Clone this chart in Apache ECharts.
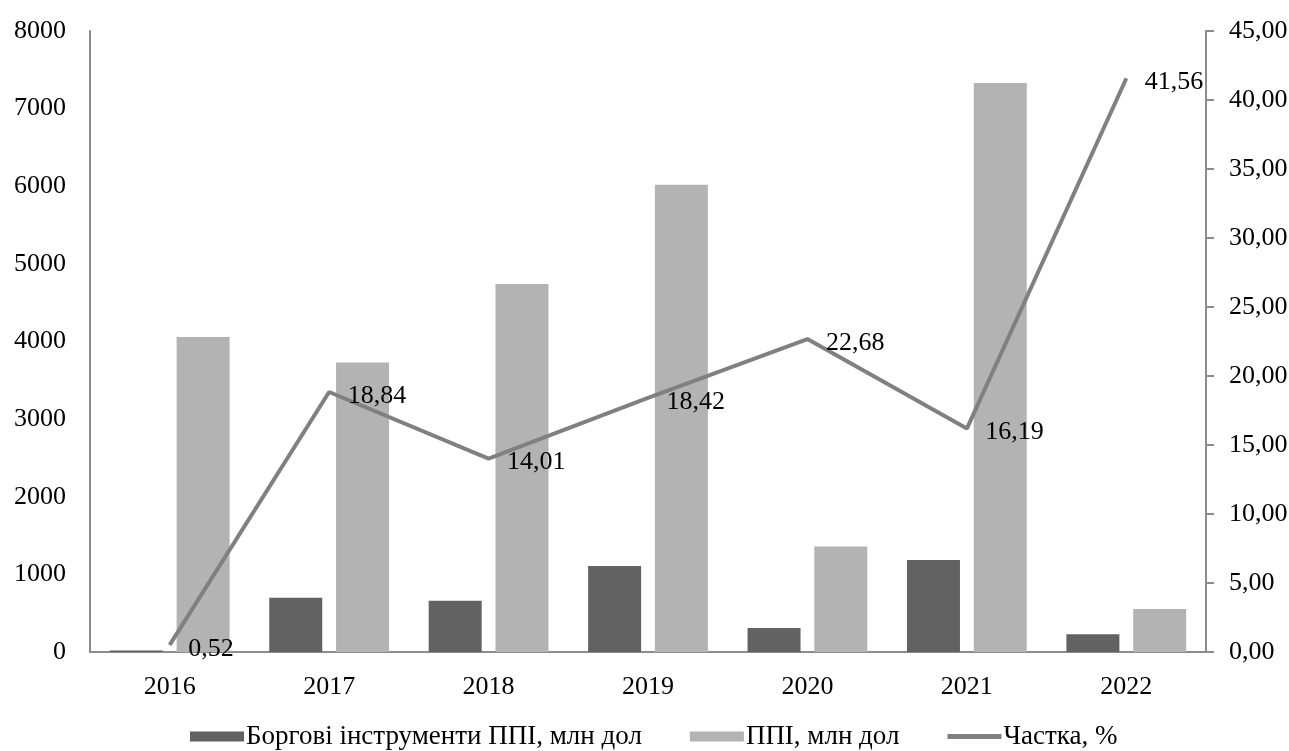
<!DOCTYPE html>
<html><head><meta charset="utf-8">
<script src="https://cdn.jsdelivr.net/npm/echarts@6/dist/echarts.min.js"></script>
<style>html,body{margin:0;padding:0;background:#fff}#c{width:1289px;height:751px}</style>
</head><body><div id="c"></div>
<script>
var categories = ['2016','2017','2018','2019','2020','2021','2022'];
var debtInstruments = [20, 700, 661, 1108, 309, 1185, 228];
var ppi = [4058, 3730, 4740, 6020, 1360, 7330, 554];
var share = [0.52, 18.84, 14.01, 18.42, 22.68, 16.19, 41.56];
var leftTicks = {min: 0, max: 8000, interval: 1000};
var rightTicks = {min: 0, max: 45, interval: 5};

var font = 'Liberation Serif';
var fs = 26;
var chart = echarts.init(document.getElementById('c'));
chart.setOption({
  animation: false,
  textStyle: {fontFamily: font},
  grid: {left: 90, right: 83, top: 31, bottom: 99, containLabel: false, outerBoundsMode: 'none'},
  legend: {
    top: 718, left: 185, itemWidth: 54, itemHeight: 10, itemGap: 48,
    textStyle: {fontFamily: font, fontSize: 27, color: '#000', padding: [0,0,0,-3]},
    data: [
      {name: 'Боргові інструменти ППІ, млн дол', icon: 'rect'},
      {name: 'ППІ, млн дол', icon: 'rect'},
      {name: 'Частка, %', icon: 'path://M0,0h0.01v0.01h-0.01zM0,2.5h54v5h-54zM53.99,9.99h0.01v0.01h-0.01z'}
    ]
  },
  xAxis: {
    type: 'category', data: categories,
    axisLine: {lineStyle: {color: '#8c8c8c', width: 2}},
    axisTick: {show: false},
    axisLabel: {fontFamily: font, fontSize: fs, color: '#000', margin: 22}
  },
  yAxis: [
    {type: 'value', min: leftTicks.min, max: leftTicks.max, interval: leftTicks.interval,
     splitLine: {show: false},
     axisLine: {show: true, lineStyle: {color: '#8c8c8c', width: 2}},
     axisTick: {show: false},
     axisLabel: {fontFamily: font, fontSize: fs, color: '#000', margin: 24,
       formatter: function(v){ return String(v); }}},
    {type: 'value', min: rightTicks.min, max: rightTicks.max, interval: rightTicks.interval,
     splitLine: {show: false},
     axisLine: {show: true, lineStyle: {color: '#8c8c8c', width: 2}},
     axisTick: {show: true, length: 8, lineStyle: {color: '#8c8c8c', width: 2}},
     axisLabel: {fontFamily: font, fontSize: fs, color: '#000', margin: 23,
       formatter: function(v){ return v.toFixed(2).replace('.', ','); }}}
  ],
  series: [
    {name: 'Боргові інструменти ППІ, млн дол', type: 'bar', data: debtInstruments,
     itemStyle: {color: '#626262'}, barWidth: 53, barGap: '26%'},
    {name: 'ППІ, млн дол', type: 'bar', data: ppi,
     itemStyle: {color: '#b3b3b3'}, barWidth: 53},
    {name: 'Частка, %', type: 'line', yAxisIndex: 1, data: share,
     symbol: 'circle', symbolSize: 1, showSymbol: true,
     lineStyle: {color: '#808080', width: 4}, itemStyle: {color: '#808080'},
     label: {show: true, position: 'right', distance: 18, offset: [0, 4], fontFamily: font, fontSize: fs, color: '#000',
       formatter: function(p){ return p.value.toFixed(2).replace('.', ','); }}}
  ]
});
</script></body></html>
